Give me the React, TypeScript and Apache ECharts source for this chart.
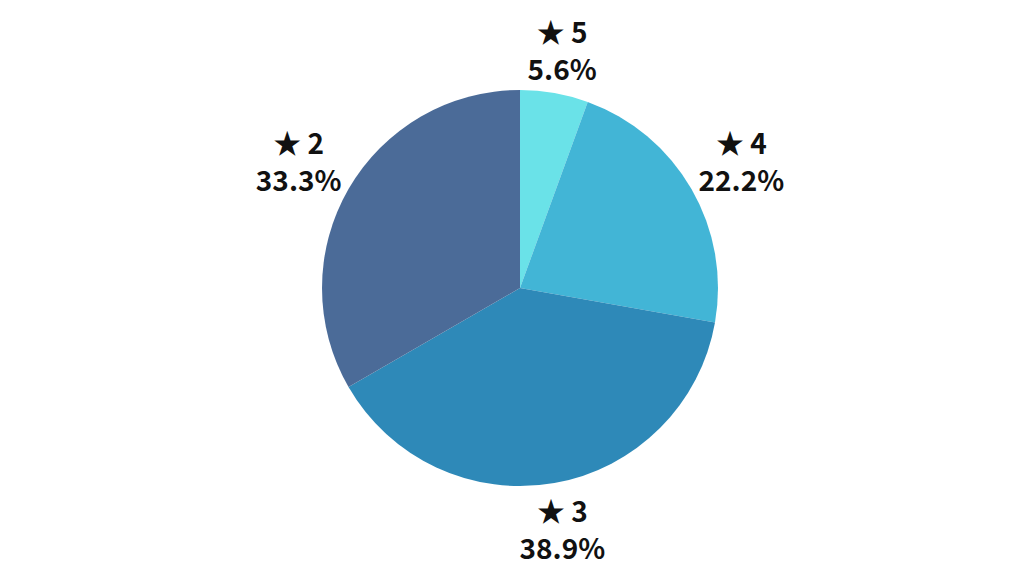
import React, { useEffect, useRef } from "react";
import * as echarts from "echarts";

const categories = ["★ 5", "★ 4", "★ 3", "★ 2"];
const counts = [1, 4, 7, 6];
const colors = ["#6ae2e8", "#42b5d6", "#2e89b8", "#4b6b98"];

const CX = 520;
const CY = 288;
const R = 198;

export default function App() {
  const ref = useRef<HTMLDivElement>(null);
  useEffect(() => {
    if (!ref.current) return;
    const chart = echarts.init(ref.current, null, { renderer: "svg" });
    const total = counts.reduce((a, b) => a + b, 0);
    const midAngles: number[] = [];
    let acc = 0;
    counts.forEach((c) => {
      midAngles.push(((acc + c / 2) / total) * Math.PI * 2);
      acc += c;
    });
    chart.setOption({
      animation: false,
      backgroundColor: "#ffffff",
      series: [
        {
          type: "pie",
          center: [CX, CY],
          radius: [0, R],
          startAngle: 90,
          clockwise: true,
          data: categories.map((name, i) => ({
            name,
            value: counts[i],
            itemStyle: { color: colors[i] },
          })),
          label: {
            show: true,
            position: "outside",
            formatter: (p: any) => `${p.name}\n${p.percent.toFixed(1)}%`,
            fontFamily: "Noto Sans CJK JP",
            fontWeight: "bold",
            fontSize: 28,
            lineHeight: 37,
            color: "#111111",
            align: "center",
          },
          labelLine: { show: false },
          labelLayout: (params: any) => {
            const a = midAngles[params.dataIndex];
            const sx = Math.sin(a);
            const sy = -Math.cos(a);
            const w = params.labelRect.width;
            const h = params.labelRect.height;
            const d = R + 2 + (Math.abs(sx) * w) / 2 + (Math.abs(sy) * h) / 2;
            return {
              x: CX + sx * d,
              y: CY + sy * d,
              align: "center",
              verticalAlign: "middle",
            };
          },
        },
      ],
    });
    return () => chart.dispose();
  }, []);
  return (
    <div
      ref={ref}
      style={{ position: "fixed", left: 0, top: 0, width: 1024, height: 576 }}
    />
  );
}
